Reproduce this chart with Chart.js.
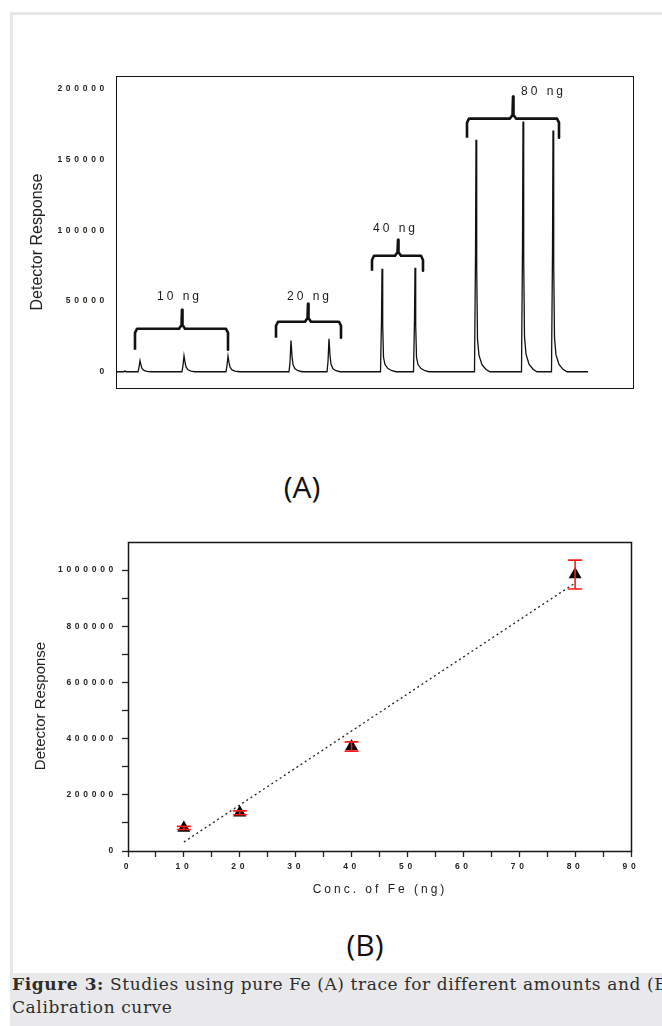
<!DOCTYPE html>
<html>
<head>
<meta charset="utf-8">
<script src="https://cdn.jsdelivr.net/npm/chart.js@4.4.1/dist/chart.umd.min.js"></script>
<style>
body{margin:0;width:662px;height:1026px;overflow:hidden;background:#fff;position:relative;font-family:"Liberation Sans",Arial,sans-serif}
#frame{position:absolute;left:10px;top:12px;width:700px;height:1100px;border:3px solid #e7e7e7;box-sizing:border-box}
canvas{position:absolute;left:0}
#chartA{top:60px}
#chartB{top:530px}
.panel{position:absolute;font-family:"Open Sans",sans-serif;font-size:30px;line-height:40px;color:#111;transform:translateX(-50%)}
#caption{position:absolute;left:10px;top:973px;width:720px;height:60px;background:#e9e9eb;font-family:"DejaVu Serif",serif;font-size:17px;letter-spacing:0.6px;line-height:23px;color:#2d2d2d;white-space:nowrap;padding-left:2px;box-sizing:border-box}
</style>
</head>
<body>
<div id="frame"></div>
<canvas id="chartA" width="662" height="350"></canvas>
<div class="panel" style="left:302px;top:467px">(A)</div>
<canvas id="chartB" width="662" height="380"></canvas>
<div class="panel" style="left:365px;top:925px">(B)</div>
<div id="caption"><b>Figure 3:</b> Studies using pure Fe (A) trace for different amounts and (B)<br>Calibration curve</div>
<script>
// (A) detector trace
const traceTime=[1,8,9,10,22,23,24,25,26,28,31,35,50,66,67,68,69,70,72,75,79,110,111,112,113,114,116,119,123,150,173,174,175,176,177,179,182,186,211,212,213,214,215,217,220,224,
  264.5,265.5,266,266.7,267.5,269,272,276,280,297.5,298.5,299,299.7,300.5,302,305,309,313,
  358.5,359.5,360,360.7,361.5,363,366,370,374,405.5,406.5,407,407.7,408.5,410,413,417,421,
  435.5,436.5,437,437.7,438.5,440,443,447,451,472];
const traceSignal=[0,0,600,0,0,3100,7800,4700,2300,900,300,0,0,0,4500,11300,6800,3400,1350,450,0,0,4400,11000,6600,3300,1300,450,0,0,0,6500,22000,11000,5000,2000,700,0,0,7000,23300,11600,5300,2100,700,0,
  0,36400,72800,32800,10200,5100,2200,700,0,0,36700,73500,33000,10300,5100,2200,700,0,
  0,82000,164000,73800,23000,11500,4900,1600,0,0,88400,176800,79600,24800,12400,5300,1800,0,
  0,85200,170400,76700,23900,11900,5100,1700,0,0];
const yTicksA=[0,50000,100000,150000,200000];

const bracketNames=['10 ng','20 ng','40 ng','80 ng'];
const bracketX=[
  [19,19,21,63,65.5,66,66.5,69,110,112,112],
  [160,160,162,189,191.5,192,192.5,195,223,225,225],
  [256,256,258,279,281.5,282,282.5,285,305,307,307],
  [351,351,353,394,396.5,397,397.5,400,441,443,443]];
const bracketY=[
  [15500,27500,30400,30400,33000,43800,33000,30400,30400,27500,15500],
  [24000,32500,35350,35350,38000,48000,38000,35350,35350,32500,24000],
  [71400,79000,82000,82000,84500,93300,84500,82000,82000,79000,71400],
  [165400,176000,178900,178900,181500,194400,181500,178900,178900,176000,165400]];
const nameX=[62,192,278,426];
const nameY=[53000,53000,101100,198000];

// (B) calibration
const concFe=[10,20,40,80];
const response=[82000,136000,372000,984000];
const responseErr=[5500,7000,16500,51500];
const fitX=[10,80];
const fitY=[32000,954000];
const xTicksB=[0,5,10,15,20,25,30,35,40,45,50,55,60,65,70,75,80,85,90];
const yTicksB=[0,100000,200000,300000,400000,500000,600000,700000,800000,900000,1000000];

const tickFont={family:'Liberation Sans',size:8.5,weight:'bold'};
const ink='#2a2520';

function boxPlugin(width,titles){
  return {
    id:'box',
    beforeDraw(chart){ chart.ctx.letterSpacing='3.7px'; },
    afterDraw(chart){
      const ctx=chart.ctx, a=chart.chartArea;
      ctx.save();
      ctx.letterSpacing='0px';
      ctx.strokeStyle='#151515';
      ctx.lineWidth=width;
      ctx.strokeRect(a.left+0.5,a.top+0.5,a.right-a.left,a.bottom-a.top);
      ctx.fillStyle='#222';
      ctx.textAlign='center';
      ctx.textBaseline='middle';
      titles.forEach(t=>{
        ctx.save();
        ctx.letterSpacing=t.spacing+'px';
        ctx.font=t.size+'px "Liberation Sans"';
        ctx.translate(t.x,t.y);
        if(t.rotate) ctx.rotate(-Math.PI/2);
        ctx.fillText(t.text,0,0);
        ctx.restore();
      });
      ctx.restore();
    }
  };
}

const bracketLabels={
  id:'bracketLabels',
  afterDatasetsDraw(chart){
    const ctx=chart.ctx, sx=chart.scales.x, sy=chart.scales.y;
    ctx.save();
    ctx.letterSpacing='3px';
    ctx.font='12px "Liberation Sans"';
    ctx.fillStyle='#1e1a16';
    ctx.textAlign='center';
    ctx.textBaseline='middle';
    bracketNames.forEach((n,i)=>{
      ctx.fillText(n,sx.getPixelForValue(nameX[i])+1.5,sy.getPixelForValue(nameY[i]));
    });
    ctx.restore();
  }
};

const errorBars={
  id:'errorBars',
  afterDatasetsDraw(chart){
    const ctx=chart.ctx, sx=chart.scales.x, sy=chart.scales.y;
    ctx.save();
    ctx.strokeStyle='#ff1a1a';
    ctx.lineWidth=1.6;
    concFe.forEach((c,i)=>{
      const x=sx.getPixelForValue(c);
      const hi=sy.getPixelForValue(response[i]+responseErr[i]);
      const lo=sy.getPixelForValue(response[i]-responseErr[i]);
      ctx.beginPath();
      ctx.moveTo(x,hi);ctx.lineTo(x,lo);
      ctx.moveTo(x-7,hi);ctx.lineTo(x+7,hi);
      ctx.moveTo(x-7,lo);ctx.lineTo(x+7,lo);
      ctx.stroke();
    });
    ctx.restore();
  }
};

const traceData=traceTime.map((t,i)=>({x:t,y:traceSignal[i]}));
const bracketSets=bracketX.map((xs,k)=>({
  data:xs.map((x,i)=>({x:x,y:bracketY[k][i]})),
  borderColor:'#111',borderWidth:2.6,pointRadius:0,tension:0,borderJoinStyle:'round'
}));

new Chart(document.getElementById('chartA'),{
  type:'line',
  data:{datasets:[{data:traceData,borderColor:'#111',borderWidth:1.3,pointRadius:0,tension:0}].concat(bracketSets)},
  options:{
    responsive:false,animation:false,events:[],
    layout:{padding:{left:0,top:16,right:29,bottom:22}},
    plugins:{legend:{display:false},tooltip:{enabled:false}},
    scales:{
      x:{type:'linear',min:0,max:517,display:false},
      y:{min:-11500,max:209000,
        grid:{display:false,drawTicks:false,tickLength:0},
        border:{display:false},
        afterBuildTicks:s=>{s.ticks=yTicksA.map(v=>({value:v}));},
        afterFit:s=>{s.width=116;},
        ticks:{font:tickFont,color:ink,padding:8,callback:v=>String(v)}}
    }
  },
  plugins:[boxPlugin(1,[{text:'Detector Response',x:38,y:182,size:16,spacing:0,rotate:true}]),bracketLabels]
});

new Chart(document.getElementById('chartB'),{
  type:'line',
  data:{datasets:[
    {data:concFe.map((c,i)=>({x:c,y:response[i]})),showLine:false,pointStyle:'triangle',pointRadius:7.5,
      backgroundColor:'#000',borderColor:'#000',borderWidth:0},
    {data:fitX.map((x,i)=>({x:x,y:fitY[i]})),borderColor:'#222',borderWidth:1.3,borderDash:[2,3],pointRadius:0,tension:0}
  ]},
  options:{
    responsive:false,animation:false,events:[],
    layout:{padding:{left:0,top:12,right:31,bottom:0}},
    plugins:{legend:{display:false},tooltip:{enabled:false}},
    scales:{
      x:{type:'linear',min:0,max:90,
        grid:{drawOnChartArea:false,drawTicks:true,tickLength:6,color:'#222',tickWidth:1.3},
        border:{display:false},
        afterBuildTicks:s=>{s.ticks=xTicksB.map(v=>({value:v}));},
        afterFit:s=>{s.height=59;},
        ticks:{font:tickFont,color:ink,padding:5,autoSkip:false,maxRotation:0,callback:v=>v%10===0?String(v):''}},
      y:{min:0,max:1100000,
        grid:{drawOnChartArea:false,drawTicks:true,tickLength:6,color:'#222',tickWidth:1.3},
        border:{display:false},
        afterBuildTicks:s=>{s.ticks=yTicksB.map(v=>({value:v}));},
        afterFit:s=>{s.width=128;},
        ticks:{font:tickFont,color:ink,padding:5,autoSkip:false,callback:v=>v%200000===0?String(v):''}}
    }
  },
  plugins:[boxPlugin(1.5,[
    {text:'Detector Response',x:41,y:176,size:15,spacing:0,rotate:true},
    {text:'Conc. of Fe (ng)',x:380,y:360,size:12,spacing:3}]),errorBars]
});
</script>
</body>
</html>
